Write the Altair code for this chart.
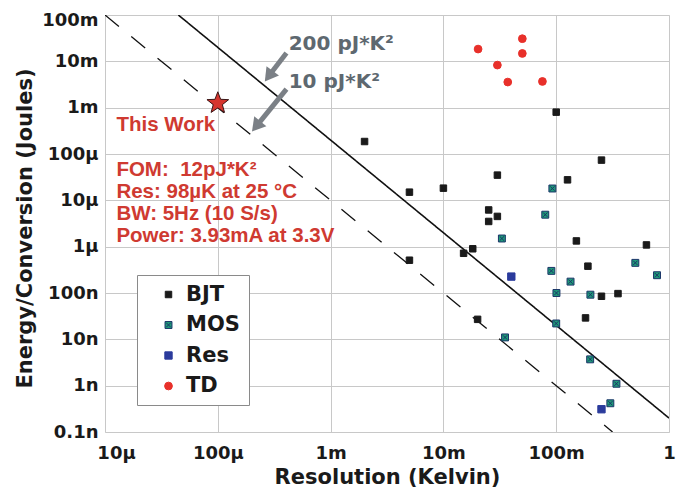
import json
import math
import altair as alt
import pandas as pd

# ---------------- data ----------------
bjt_x = [2.0e-3, 0.1, 0.252, 30.1e-3, 0.126, 5.0e-3, 10e-3, 25.2e-3, 25.2e-3, 30.1e-3,
         0.151, 0.631, 18.2e-3, 15.1e-3, 5.0e-3, 0.191, 0.252, 0.353, 0.182, 20.1e-3]
bjt_y = [186e-6, 0.8e-3, 73.8e-6, 35e-6, 27.7e-6, 15e-6, 18.3e-6, 6.2e-6, 3.5e-6, 4.5e-6,
         1.33e-6, 1.09e-6, 0.9e-6, 0.72e-6, 0.51e-6, 0.379e-6, 85e-9, 97e-9, 29e-9, 27e-9]
mos_x = [92.5e-3, 80e-3, 33e-3, 90.6e-3, 0.134, 0.1005, 0.201, 0.503, 0.783, 0.1,
         35.2e-3, 0.2, 0.342, 0.302]
mos_y = [18e-6, 4.9e-6, 1.5e-6, 0.3e-6, 176e-9, 100e-9, 92e-9, 447e-9, 242e-9, 22e-9,
         11e-9, 3.7e-9, 1.1e-9, 0.417e-9]
res_x = [40e-3, 0.252]
res_y = [226e-9, 0.31e-9]
td_x = [20.3e-3, 50.1e-3, 50.1e-3, 30.1e-3, 37.2e-3, 75.5e-3]
td_y = [18.4e-3, 30.8e-3, 14.8e-3, 8.3e-3, 3.57e-3, 3.68e-3]

this_work_x = [1.0e-4]
this_work_y = [1.25e-3]

# iso-FOM lines (end points)
fom200_x = [4.47e-5, 1.0]
fom200_y = [0.1, 2e-10]
fom10_x = [1e-5, 0.316]
fom10_y = [0.1, 1e-10]

categories = ["BJT", "MOS", "Res", "TD"]
xtick_values = [1e-5, 1e-4, 1e-3, 1e-2, 1e-1, 1]
xtick_labels = ["10µ", "100µ", "1m", "10m", "100m", "1"]
ytick_values = [1e-10, 1e-9, 1e-8, 1e-7, 1e-6, 1e-5, 1e-4, 1e-3, 1e-2, 1e-1]
ytick_labels = ["0.1n", "1n", "10n", "100n", "1µ", "10µ", "100µ", "1m", "10m", "100m"]

# ---------------- tables ----------------
rows = []
for cat, xs, ys in [("BJT", bjt_x, bjt_y), ("MOS", mos_x, mos_y),
                    ("Res", res_x, res_y), ("TD", td_x, td_y)]:
    for a, b in zip(xs, ys):
        rows.append({"res": a, "energy": b, "type": cat})
pts = pd.DataFrame(rows)

lines = pd.DataFrame(
    [{"res": a, "energy": b, "fom": "200"} for a, b in zip(fom200_x, fom200_y)] +
    [{"res": a, "energy": b, "fom": "10"} for a, b in zip(fom10_x, fom10_y)]
)
star = pd.DataFrame({"res": this_work_x, "energy": this_work_y})

gray_text = pd.DataFrame({
    "x": [4.25e-4, 4.25e-4],
    "y": [17.8e-3, 2.65e-3],
    "t": ["200 pJ*K²", "10 pJ*K²"],
})
red_title = pd.DataFrame({"x": [1.262e-5], "y": [3.06e-4], "t": ["This Work"]})
red_block = pd.DataFrame({
    "x": [1.262e-5], "y": [3.27e-5],
    "t": ["FOM:\u00a0\u00a012pJ*K²\nRes: 98µK at 25 °C\nBW: 5Hz (10 S/s)\nPower: 3.93mA at 3.3V"],
})
arrow_shaft = pd.DataFrame({
    "x": [4.06e-4, 4.06e-4], "y": [1.51e-2, 2.52e-3],
    "x2": [2.84e-4, 2.20e-4], "y2": [4.86e-3, 4.01e-4],
})
arrow_head = pd.DataFrame({
    "x": [2.61e-4, 2.01e-4], "y": [3.68e-3, 3.06e-4], "angle": [217, 219],
})

# ---------------- scales / axes ----------------
xscale = alt.Scale(type="log", domain=[1e-5, 1], nice=False)
yscale = alt.Scale(type="log", domain=[1e-10, 0.1], nice=False)

x_expr = json.dumps(xtick_labels, ensure_ascii=False) + "[round(log(datum.value)/LN10)+5]"
y_expr = json.dumps(ytick_labels, ensure_ascii=False) + "[round(log(datum.value)/LN10)+10]"

xaxis = alt.Axis(
    values=xtick_values, labelExpr=x_expr, title="Resolution (Kelvin)",
    grid=True, gridColor="#c8c8c8", gridWidth=1, domain=False, ticks=False,
    labelFont="DejaVu Sans", labelFontWeight="bold", labelFontSize=18, labelColor="#1a1a1a",
    labelPadding=12, labelOverlap=False, labelFlush=False, labelBound=False,
    labelOffset={"condition": {"test": "datum.value < 2e-5", "value": 11}, "value": 0},
    titleFont="DejaVu Sans", titleFontWeight="bold", titleFontSize=21, titleColor="#1a1a1a",
    titleX=282, titleY=51, titleBaseline="alphabetic", titleAlign="center",
)
yaxis = alt.Axis(
    values=ytick_values, labelExpr=y_expr, title="Energy/Conversion (Joules)",
    grid=True, gridColor="#c8c8c8", gridWidth=1, domain=False, ticks=False,
    labelFont="DejaVu Sans", labelFontWeight="bold", labelFontSize=18, labelColor="#1a1a1a",
    labelPadding=7, labelOverlap=False, labelFlush=False, labelBound=False,
    labelOffset={"condition": {"test": "datum.value > 0.05", "value": 5}, "value": 0},
    titleFont="DejaVu Sans", titleFontWeight="bold", titleFontSize=21, titleColor="#1a1a1a",
    titleX=-74, titleY=213, titleAngle=270, titleBaseline="alphabetic", titleAlign="center",
)

base_lines = alt.Chart(lines).mark_line(color="#111111", clip=True).encode(
    x=alt.X("res:Q", scale=xscale, axis=xaxis),
    y=alt.Y("energy:Q", scale=yscale, axis=yaxis),
    detail="fom:N",
    strokeWidth=alt.condition("datum.fom == '200'", alt.value(1.6), alt.value(1.3)),
    strokeDash=alt.StrokeDash("fom:N", scale=alt.Scale(domain=["200", "10"], range=[[1, 0], [18, 16]]), legend=None),
)

mos_path = "M-1,-1L1,-1L1,1L-1,1Z M-0.62,-0.62L0.62,0.62 M-0.62,0.62L0.62,-0.62"
fill_colors = ["#1a1a1a", "#1f9a78", "#2b3b9c", "#e8302a"]
stroke_colors = ["#1a1a1a", "#1a3468", "#2b3b9c", "#e8302a"]

legend = alt.Legend(
    title=None, orient="none", legendX=32, legendY=260,
    fillColor="white", strokeColor="#8a8a8a", padding=9,
    symbolOffset=12, labelOffset=7, rowPadding=8.5,
    labelFont="DejaVu Sans", labelFontWeight="bold", labelFontSize=21, labelColor="#1a1a1a",
    symbolStrokeWidth=1,
)

points = alt.Chart(pts).mark_point(filled=True, opacity=1, strokeWidth=1).encode(
    x="res:Q", y="energy:Q",
    fill=alt.Fill("type:N", scale=alt.Scale(domain=categories, range=fill_colors), legend=legend),
    stroke=alt.Stroke("type:N", scale=alt.Scale(domain=categories, range=stroke_colors), legend=legend),
    shape=alt.Shape("type:N", scale=alt.Scale(domain=categories, range=["square", mos_path, "square", "circle"]), legend=legend),
    size=alt.Size("type:N", scale=alt.Scale(domain=categories, range=[42, 60, 62, 100]), legend=legend),
)

# 5-pointed star path
pts_star = []
for i in range(10):
    r = 1.0 if i % 2 == 0 else 0.42
    a = -math.pi / 2 + i * math.pi / 5
    pts_star.append(f"{r*math.cos(a):.3f},{r*math.sin(a):.3f}")
star_path = "M" + "L".join(pts_star) + "Z"

star_layer = alt.Chart(star).mark_point(
    shape=star_path, filled=True, fill="#d6352e", stroke="#3a1515", strokeWidth=1,
    size=520, opacity=1,
).encode(x="res:Q", y="energy:Q")

shafts = alt.Chart(arrow_shaft).mark_rule(color="#7b8086", strokeWidth=5).encode(
    x="x:Q", y="y:Q", x2="x2:Q", y2="y2:Q")
heads = alt.Chart(arrow_head).mark_point(
    shape="M0,0L-0.65,1.1L0.65,1.1Z", filled=True, fill="#7b8086", opacity=1, size=576, strokeWidth=0,
).encode(x="x:Q", y="y:Q", angle=alt.Angle("angle:Q", scale=None))

gray = alt.Chart(gray_text).mark_text(
    font="DejaVu Sans", fontWeight="bold", fontSize=20, color="#5e6870",
    align="left", baseline="alphabetic",
).encode(x="x:Q", y="y:Q", text="t:N")

red1 = alt.Chart(red_title).mark_text(
    font="Liberation Sans", fontWeight="bold", fontSize=20.5, color="#cf3a31",
    align="left", baseline="alphabetic",
).encode(x="x:Q", y="y:Q", text="t:N")

red2 = alt.Chart(red_block).mark_text(
    font="Liberation Sans", fontWeight="bold", fontSize=20.5, color="#cf3a31",
    align="left", baseline="alphabetic", lineBreak="\n", lineHeight=21.7,
).encode(x="x:Q", y="y:Q", text="t:N")

chart = alt.layer(
    base_lines, points, star_layer, shafts, heads, gray, red1, red2
).resolve_scale(
    x="shared", y="shared"
).properties(
    width=564, height=417,
    autosize=alt.AutoSizeParams(type="none"),
    padding={"left": 97, "top": 7, "right": 8, "bottom": 56},
).configure_view(
    stroke="#1a1a1a", strokeWidth=2.5
).configure(background="white")

chart.save("out.html", embed_options={"renderer": "svg", "actions": False})
